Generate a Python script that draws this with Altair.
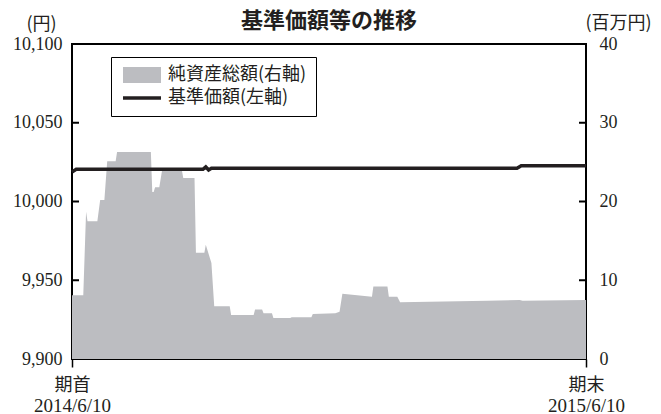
import altair as alt
import pandas as pd

# ---- data ----
# Net assets (million yen, right axis)
asset_dates = [
    "2014-06-10", "2014-06-18", "2014-06-20", "2014-06-21", "2014-06-28", "2014-06-30",
    "2014-07-03", "2014-07-05", "2014-07-11", "2014-07-12", "2014-08-05", "2014-08-06",
    "2014-08-07", "2014-08-08", "2014-08-11", "2014-08-13", "2014-08-27", "2014-08-28",
    "2014-09-05", "2014-09-06", "2014-09-12", "2014-09-13", "2014-09-17", "2014-09-19",
    "2014-09-30", "2014-10-01", "2014-10-17", "2014-10-18", "2014-10-23", "2014-10-24",
    "2014-10-30", "2014-10-31", "2014-11-12", "2014-11-13", "2014-11-27", "2014-11-28",
    "2014-12-14", "2014-12-17", "2014-12-19", "2015-01-09", "2015-01-10", "2015-01-20",
    "2015-01-21", "2015-01-27", "2015-01-29", "2015-04-01", "2015-04-24", "2015-04-26",
    "2015-06-10",
]
asset_values = [
    8.1, 8.1, 18.7, 17.5, 17.5, 20.2,
    20.2, 25.1, 25.1, 26.3, 26.3, 21.2,
    21.2, 21.8, 21.8, 24.0, 24.0, 23.0,
    23.0, 13.5, 13.5, 14.5, 12.2, 6.7,
    6.7, 5.6, 5.6, 6.3, 6.3, 5.8,
    5.8, 5.2, 5.2, 5.3, 5.3, 5.7,
    5.8, 6.0, 8.3, 7.9, 9.2, 9.2,
    7.9, 7.9, 7.2, 7.4, 7.5, 7.4,
    7.5,
]
# Base price (yen, left axis)
price_dates = ["2014-06-10", "2014-06-13", "2014-09-11", "2014-09-13", "2014-09-15",
               "2014-09-17", "2015-04-22", "2015-04-25", "2015-06-10"]
price_values = [10018.7, 10020.4, 10020.4, 10022.0, 10020.0,
                10021.1, 10021.1, 10022.7, 10022.7]

left_ticks = [9900, 9950, 10000, 10050, 10100]
right_ticks = [0, 10, 20, 30, 40]
x_top_labels = ["期首", "期末"]
x_bottom_labels = ["2014/6/10", "2015/6/10"]
series_names = ["純資産総額(右軸)", "基準価額(左軸)"]
series_colors = ["#bcbdc1", "#231f20"]

title_text = "基準価額等の推移"
left_unit = "(円)"
right_unit = "(百万円)"

# ---- helpers ----
CJK = "Noto Sans CJK JP"
SERIF = "Liberation Serif"
INK = "#231f20"

assets_df = pd.DataFrame({"date": asset_dates, "value": asset_values})
price_df = pd.DataFrame({"date": price_dates, "price": price_values})
legend_df = pd.DataFrame({"series": series_names, "date": [None, None], "p": [None, None]})
lt_df = pd.DataFrame({"t": left_ticks[1:-1]})
rt_df = pd.DataFrame({"t": right_ticks[1:-1]})

x_dom = [alt.DateTime(year=2014, month=6, date=10, utc=True),
         alt.DateTime(year=2015, month=6, date=10, utc=True)]
mid_ms = int(pd.Timestamp("2014-12-10", tz="UTC").value // 10**6)
xscale = alt.Scale(domain=x_dom)
price_scale = alt.Scale(domain=[left_ticks[0], left_ticks[-1]])
asset_scale = alt.Scale(domain=[right_ticks[0], right_ticks[-1]])

top_expr = f"datum.value < {mid_ms} ? '{x_top_labels[0]}' : '{x_top_labels[1]}'"
bottom_expr = f"datum.value < {mid_ms} ? '{x_bottom_labels[0]}' : '{x_bottom_labels[1]}'"

# ---- area (right axis) ----
area = alt.Chart(assets_df).mark_area(color=series_colors[0], interpolate="linear").encode(
    x=alt.X("date:T", scale=xscale, axis=alt.Axis(
        orient="bottom", values=x_dom, labelExpr=top_expr, title=None,
        tickSize=8, tickWidth=1.5, tickColor="black", domain=False, grid=False,
        labelFont=CJK, labelFontSize=18, labelColor=INK, labelPadding=9,
        labelFlush=False, labelOverlap=False, labelBound=False)),
    y=alt.Y("value:Q", scale=asset_scale, axis=alt.Axis(
        orient="right", values=right_ticks, format="d", ticks=False, domain=False, grid=False,
        labelFont=SERIF, labelFontSize=18, labelColor=INK, labelPadding=13,
        title=right_unit, titleAngle=0, titleX=32, titleY=-21, titleAlign="center",
        titleBaseline="middle", titleFont=CJK, titleFontSize=18, titleFontWeight="normal",
        titleColor=INK)),
)
rticks = alt.Chart(rt_df).mark_rule(color="black", strokeWidth=2).encode(
    y=alt.Y("t:Q", scale=asset_scale, axis=None),
    x=alt.value(507), x2=alt.value(514),
)

# ---- line (left axis) ----
line = alt.Chart(price_df).mark_line(color=series_colors[1], strokeWidth=3.5).encode(
    x=alt.X("date:T", scale=xscale, axis=alt.Axis(
        orient="bottom", values=x_dom, labelExpr=bottom_expr, title=None,
        ticks=False, tickSize=0, domain=False, grid=False,
        labelFont=SERIF, labelFontSize=19, labelColor=INK, labelPadding=37,
        labelFlush=False, labelOverlap=False, labelBound=False)),
    y=alt.Y("price:Q", scale=price_scale, axis=alt.Axis(
        orient="left", values=left_ticks, format=",d", ticks=False, domain=False, grid=False,
        labelFont=SERIF, labelFontSize=18, labelColor=INK, labelPadding=10,
        title=left_unit, titleAngle=0, titleX=-31, titleY=-20, titleAlign="center",
        titleBaseline="middle", titleFont=CJK, titleFontSize=18, titleFontWeight="normal",
        titleColor=INK)),
)
lticks = alt.Chart(lt_df).mark_rule(color="black", strokeWidth=2).encode(
    y=alt.Y("t:Q", scale=price_scale, axis=None),
    x=alt.value(0), x2=alt.value(7),
)

rect_path = "M-2.375,-1H2.375V1H-2.375Z"
line_path = "M-2.375,-0.22H2.375V0.22H-2.375Z"
legend_obj = alt.Legend(
    title=None, orient="none", legendX=39, legendY=13, direction="vertical",
    strokeColor="black", fillColor="white", padding=9, symbolSize=256,
    symbolOffset=13, labelOffset=17, rowPadding=5,
    labelFont=CJK, labelFontSize=18, labelColor=INK, labelLimit=300,
    symbolStrokeWidth=0, symbolOpacity=1,
)
leg = alt.Chart(legend_df).mark_point(filled=True, opacity=1).encode(
    x=alt.X("date:T", scale=xscale, axis=None),
    y=alt.Y("p:Q", scale=price_scale, axis=None),
    color=alt.Color("series:N", scale=alt.Scale(domain=series_names, range=series_colors),
                    legend=legend_obj),
    shape=alt.Shape("series:N", scale=alt.Scale(domain=series_names, range=[rect_path, line_path]),
                    legend=legend_obj),
)

chart = alt.layer(area, rticks, line, lticks, leg).resolve_scale(
    y="independent"
).resolve_axis(
    x="independent"
).properties(
    width=514, height=315,
    padding={"left": 64, "top": 36, "right": 67, "bottom": 55},
    autosize="none",
    title=alt.TitleParams(title_text, font=CJK, fontSize=22, fontWeight="bold",
                          color=INK, anchor="middle", frame="group", offset=-19),
).configure(
    background="white"
).configure_view(
    stroke="black", strokeWidth=2
)

chart.save("out.html", embed_options={"renderer": "svg", "actions": False})
